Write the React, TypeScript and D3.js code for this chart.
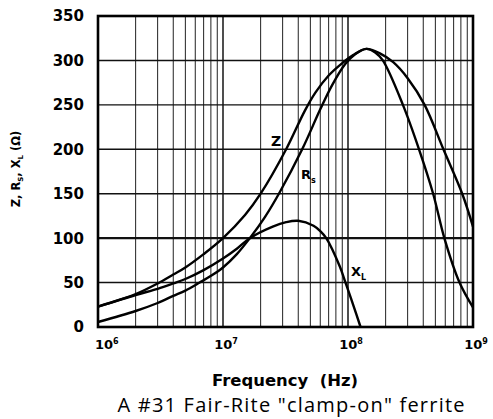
import * as d3 from "d3";

// Frequency (Hz) / value (ohm) pairs
const zFreq = [1e6, 2e6, 3e6, 4e6, 5e6, 7e6, 1e7, 1.5e7, 2e7, 3.2e7, 4.5e7, 5.5e7, 7e7, 9e7, 1.1e8, 1.4e8, 1.8e8, 2.3e8, 3e8, 4.1e8, 5.8e8, 8.2e8, 1e9];
const zVals = [22.9, 37, 49, 59, 67, 82, 100, 126, 150, 200, 243, 264, 283, 297, 306, 313, 308, 298, 280, 250, 200, 150, 113];

const rsFreq = [1e6, 2e6, 3e6, 4e6, 5e6, 6.5e6, 7.9e6, 1e7, 1.29e7, 1.64e7, 2.17e7, 2.8e7, 4.3e7, 6e7, 7.45e7, 9.5e7, 1.14e8, 1.4e8, 1.65e8, 1.9e8, 2.75e8, 3.7e8, 4.8e8, 5.9e8, 7.8e8, 1e9];
const rsVals = [5.6, 18, 27, 35, 41, 50, 57, 67, 82, 100, 124, 150, 200, 245, 272, 296, 307, 313, 309, 300, 250, 200, 150, 100, 50, 22];

const xlFreq = [1e6, 2e6, 3e6, 4e6, 5e6, 7e6, 1e7, 1.29e7, 1.64e7, 2.5e7, 3.2e7, 4e7, 5.3e7, 6e7, 6.7e7, 8.6e7, 9.6e7, 1.1e8, 1.26e8];
const xlVals = [22.9, 36, 43, 49, 54, 64, 77, 88, 100, 113, 118, 119.5, 114, 108, 100, 68, 49, 25, 0];

const yTicks = [0, 50, 100, 150, 200, 250, 300, 350];
const xDecades = [6, 7, 8, 9];

const W = 493;
const H = 419;
const font = "'DejaVu Sans', sans-serif";

export default function App() {
  const x = d3.scaleLog().domain([1e6, 1e9]).range([98, 473]);
  const y = d3.scaleLinear().domain([0, 350]).range([327, 16]);

  const line = d3
    .line<[number, number]>()
    .x((d) => x(d[0]))
    .y((d) => y(d[1]))
    .curve(d3.curveCatmullRom.alpha(0.5));

  const toPts = (f: number[], v: number[]) => f.map((ff, i) => [ff, v[i]] as [number, number]);

  const gridX: number[] = [];
  [6, 7, 8].forEach((d) => {
    for (let k = 1; k <= 9; k++) gridX.push(k * Math.pow(10, d));
  });
  gridX.push(1e9);

  return (
    <svg width={W} height={H} style={{ position: "absolute", left: 0, top: 0, background: "#fff" }}>
      {/* grid */}
      {gridX.map((f, i) => (
        <line key={"gx" + i} x1={x(f)} x2={x(f)} y1={y(0)} y2={y(350)} stroke="#222" strokeWidth={i % 9 === 0 ? 1.6 : 1} />
      ))}
      {yTicks.map((t) => (
        <line key={"gy" + t} x1={x(1e6)} x2={x(1e9)} y1={y(t)} y2={y(t)} stroke="#111" strokeWidth={t === 100 ? 2.2 : 1.4} />
      ))}

      {/* frame */}
      <rect x={x(1e6)} y={y(350)} width={x(1e9) - x(1e6)} height={y(0) - y(350)} fill="none" stroke="#000" strokeWidth={2.6} />

      {/* curves */}
      <path d={line(toPts(zFreq, zVals)) || ""} fill="none" stroke="#000" strokeWidth={2.4} />
      <path d={line(toPts(rsFreq, rsVals)) || ""} fill="none" stroke="#000" strokeWidth={2.4} />
      <path d={line(toPts(xlFreq, xlVals)) || ""} fill="none" stroke="#000" strokeWidth={2.4} />

      {/* curve labels */}
      <text x={271} y={146} fontFamily={font} fontWeight="bold" fontSize={14}>Z</text>
      <text x={301} y={179} fontFamily={font} fontWeight="bold" fontSize={13}>
        R<tspan fontSize={8} dy={4}>s</tspan>
      </text>
      <text x={351} y={276} fontFamily={font} fontWeight="bold" fontSize={13}>
        X<tspan fontSize={8} dy={4}>L</tspan>
      </text>

      {/* y ticks */}
      {yTicks.map((t) => (
        <text key={"yt" + t} x={84} y={y(t)} dy="0.36em" textAnchor="end" fontFamily={font} fontWeight="bold" fontSize={15}>
          {t}
        </text>
      ))}

      {/* x ticks */}
      {xDecades.map((d, i) => (
        <text
          key={"xt" + d}
          x={i === 0 ? x(Math.pow(10, d)) - 3 : x(Math.pow(10, d)) + 3}
          y={349}
          textAnchor={i === 0 ? "start" : "middle"}
          fontFamily={font}
          fontWeight="bold"
          fontSize={13}
        >
          10<tspan fontSize={8} dy={-5}>{d}</tspan>
        </text>
      ))}

      {/* axis titles */}
      <text x={285} y={386} textAnchor="middle" fontFamily={font} fontWeight="bold" fontSize={15} textLength={146} lengthAdjust="spacingAndGlyphs" style={{ whiteSpace: "pre" }}>
        {"Frequency  (Hz)"}
      </text>
      <text transform="translate(20,169) rotate(-90)" textAnchor="middle" fontFamily={font} fontWeight="bold" fontSize={11.5}>
        Z, R<tspan fontSize={7} dy={3}>S</tspan>
        <tspan dy={-3}>, X</tspan>
        <tspan fontSize={7} dy={3}>L</tspan>
        <tspan dy={-3}> (Ω)</tspan>
      </text>

      {/* caption */}
      <text x={291} y={412} textAnchor="middle" fontFamily="'Open Sans', sans-serif" fontSize={20} textLength={347} lengthAdjust="spacing">
        A #31 Fair-Rite "clamp-on" ferrite
      </text>
    </svg>
  );
}
